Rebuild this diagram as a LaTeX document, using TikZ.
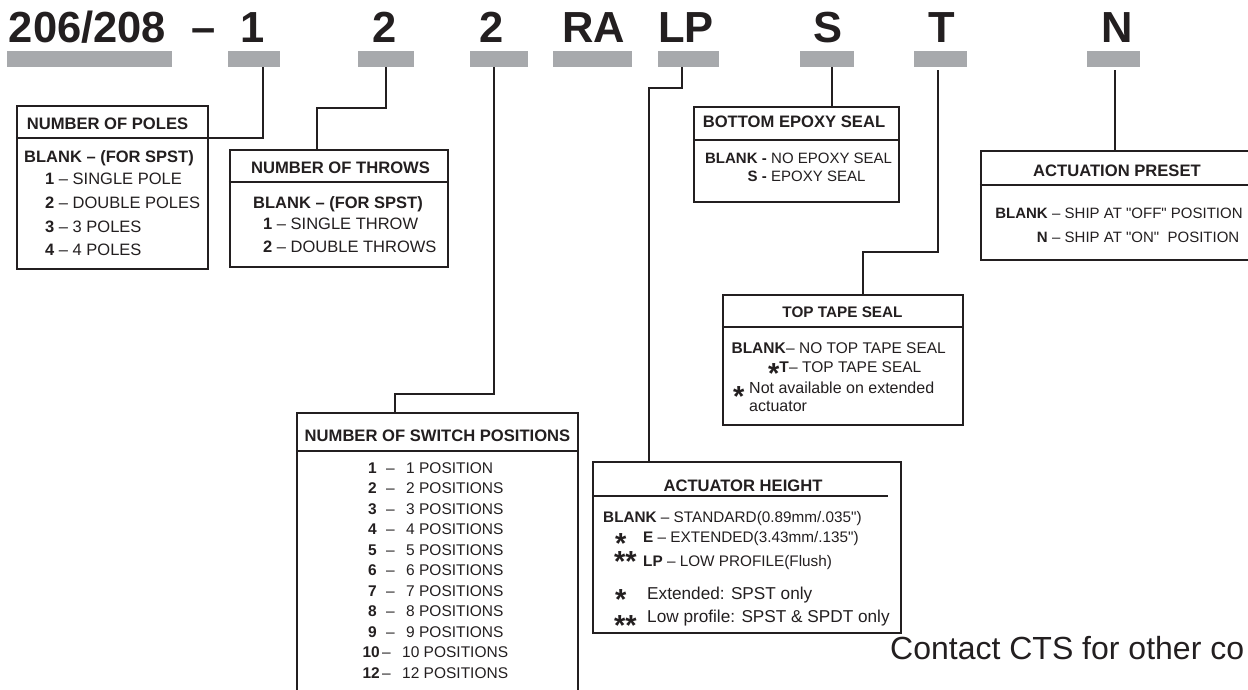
\documentclass[tikz,border=0pt]{standalone}
\usepackage{fontspec}
\setmainfont{Liberation Sans}[Ligatures=TeXOff]
\definecolor{ink}{RGB}{35,31,32}
\definecolor{barc}{RGB}{167,169,172}
\newcommand{\myast}{{\fontsize{29}{29}\selectfont\bfseries\raisebox{-11.5pt}[9pt][0pt]{*}}}
\newcommand{\dq}{\symbol{34}}
\tikzset{
  bar/.style={fill=barc, draw=none, inner sep=0pt, minimum height=16pt, anchor=north west},
  box/.style={draw=ink, line width=2.2pt, inner sep=0pt},
  hline/.style={draw=ink, line width=2pt},
  conn/.style={draw=ink, line width=2pt},
  code/.style={font=\fontsize{43.5}{44}\selectfont\bfseries, text=ink, anchor=base, inner sep=0pt},
  ttl/.style={font=\fontsize{16.6}{19}\selectfont\bfseries, text=ink, anchor=base, inner sep=0pt},
  txt/.style={text=ink, anchor=base west, inner sep=0pt},
  txtr/.style={text=ink, anchor=base east, inner sep=0pt},
  fA/.style={font=\fontsize{16.5}{19}\selectfont},
  fB/.style={font=\fontsize{15.5}{18}\selectfont},
  fC/.style={font=\fontsize{15}{18}\selectfont},
  fD/.style={font=\fontsize{15.3}{18}\selectfont},
  fE/.style={font=\fontsize{17.2}{20}\selectfont},
  fF/.style={font=\fontsize{16}{19}\selectfont},
}
\begin{document}
\begin{tikzpicture}[x=1pt,y=-1pt]
\useasboundingbox (0,0) rectangle (1248,690);
\clip (0,0) rectangle (1248,690);
\fill[white] (0,0) rectangle (1248,690);

% code letters
\node[code] (t0) at (87.5,43) {206/208};
\node[code] (tdash) at (203.5,43) {–};
\node[code] (t1) at (252.5,43) {1};
\node[code] (t2) at (385,43) {2};
\node[code] (t3) at (491.5,43) {2};
\node[code] (tRA) at (593.5,43) {RA};
\node[code] (tLP) at (686,43) {LP};
\node[code] (tS) at (827.5,43) {S};
\node[code] (tT) at (941.5,43) {T};
\node[code] (tN) at (1117.5,43) {N};

% gray bars
\node[bar, minimum width=165pt] (b0) at (7,51) {};
\node[bar, minimum width=52pt] (b1) at (228,51) {};
\node[bar, minimum width=56pt] (b2) at (358,51) {};
\node[bar, minimum width=58pt] (b3) at (470,51) {};
\node[bar, minimum width=79pt] (bRA) at (553,51) {};
\node[bar, minimum width=61pt] (bLP) at (658,51) {};
\node[bar, minimum width=54pt] (bS) at (800,51) {};
\node[bar, minimum width=53pt] (bT) at (914,51) {};
\node[bar, minimum width=53pt] (bN) at (1087,51) {};

% boxes
\node[box, minimum width=191pt, minimum height=163pt] (poles) at (112.5,187.5) {};
\node[box, minimum width=218pt, minimum height=117pt] (throws) at (339,208.5) {};
\node[box, minimum width=281pt, minimum height=287pt] (switch) at (437.5,556.5) {};
\node[box, minimum width=205pt, minimum height=95pt] (epoxy) at (796.5,154.5) {};
\node[box, minimum width=240pt, minimum height=130pt] (tape) at (843,360) {};
\node[box, minimum width=308pt, minimum height=171pt] (act) at (747,547.5) {};
\node[box, minimum width=272pt, minimum height=109pt] (preset) at (1117,205.5) {};

% header lines
\draw[hline] ([yshift=-33pt]poles.north west) -- ([yshift=-33pt]poles.north east);
\draw[hline] ([yshift=-33pt]throws.north west) -- ([yshift=-33pt]throws.north east);
\draw[hline] ([yshift=-39pt]switch.north west) -- ([yshift=-39pt]switch.north east);
\draw[hline] ([yshift=-34pt]epoxy.north west) -- ([yshift=-34pt]epoxy.north east);
\draw[hline] ([yshift=-33pt]tape.north west) -- ([yshift=-33pt]tape.north east);
\draw[hline] ([yshift=-35pt]act.north west) -- ([xshift=-14pt,yshift=-35pt]act.north east);
\draw[hline] ([yshift=-35pt]preset.north west) -- ([yshift=-35pt]preset.north east);

% connectors
\coordinate (x1) at (263,0);
\coordinate (x2) at (317,0);
\coordinate (x3) at (494,0);
\coordinate (x3b) at (395,0);
\coordinate (xLP) at (682,0);
\coordinate (xLPb) at (649,0);
\coordinate (xS) at (832,0);
\coordinate (xT) at (938,0);
\coordinate (xTb) at (863,0);
\coordinate (xN) at (1115,0);
\draw[conn] (b1.south -| x1) |- ([yshift=-33pt]poles.north east);
\draw[conn] (b2.south) -- ++(0,41) -| (x2 |- throws.north);
\draw[conn] (b3.south -| x3) -- ++(0,327) -| (x3b |- switch.north);
\draw[conn] (bLP.south -| xLP) -- ++(0,21) -| (xLPb |- act.north);
\draw[conn] (bS.south -| xS) -- (xS |- epoxy.north);
\draw[conn, shorten <=3pt] (bT.south -| xT) -- ++(0,185) -| (xTb |- tape.north);
\draw[conn, shorten <=3pt] (bN.south -| xN) -- (xN |- preset.north);

% titles
\node[ttl] (pT) at (107.5,130) {NUMBER OF POLES};
\node[ttl] (thT) at (340.5,174) {NUMBER OF THROWS};
\node[ttl] (swT) at (437.5,441) {NUMBER OF SWITCH POSITIONS};
\node[ttl] (epT) at (794,128) {BOTTOM EPOXY SEAL};
\node[ttl, font=\fontsize{15.3}{18}\selectfont\bfseries] (tpT) at (842.5,317) {TOP TAPE SEAL};
\node[ttl] (acT) at (743,491) {ACTUATOR HEIGHT};
\node[ttl] (prT) at (1117,177) {ACTUATION PRESET};

% poles body
\node[txt, fA] (p0) at (24,163) {\textbf{BLANK – (FOR SPST)}};
\node[txt, fA] (p1) at (45,185) {\textbf{1} – SINGLE POLE};
\node[txt, fA] (p2) at (45,208) {\textbf{2} – DOUBLE POLES};
\node[txt, fA] (p3) at (45,232) {\textbf{3} – 3 POLES};
\node[txt, fA] (p4) at (45,255) {\textbf{4} – 4 POLES};

% throws body
\node[txt, fA] (h0) at (253,208) {\textbf{BLANK – (FOR SPST)}};
\node[txt, fA] (h1) at (263,229) {\textbf{1} – SINGLE THROW};
\node[txt, fA] (h2) at (263,252) {\textbf{2} – DOUBLE THROWS};

% switch positions body
\node[txtr, fB] (sn1) at (377,473) {\textbf{1}};
\node[txt, fB] (sd1) at (386,473) {–};
\node[txt, fB] (st1) at (406,473) {1 POSITION};
\foreach \n [count=\i] in {2,...,9} {
  \node[txtr, fB] (sn\n) at (377,{473+20.5*\i}) {\textbf{\n}};
  \node[txt, fB] (sd\n) at (386,{473+20.5*\i}) {–};
  \node[txt, fB] (st\n) at (406,{473+20.5*\i}) {\n\ POSITIONS};
}
\node[txtr, fB] (sn10) at (380,657.5) {\textbf{10}};
\node[txt, fB] (sd10) at (382,657.5) {–};
\node[txt, fB] (st10) at (402,657.5) {10 POSITIONS};
\node[txtr, fB] (sn12) at (380,678) {\textbf{12}};
\node[txt, fB] (sd12) at (382,678) {–};
\node[txt, fB] (st12) at (402,678) {12 POSITIONS};

% epoxy body
\node[txtr, fC] (e0a) at (767,164) {\textbf{BLANK -}};
\node[txt, fC] (e0b) at (771,164) {NO EPOXY SEAL};
\node[txtr, fC] (e1a) at (767,182) {\textbf{S -}};
\node[txt, fC] (e1b) at (771,182) {EPOXY SEAL};

% tape body
\node[txtr, fB] (a0a) at (786,353) {\textbf{BLANK}};
\node[txt, fB] (a0b) at (786,353) {– NO TOP TAPE SEAL};
\node[txtr, fB] (a1a) at (789,372) {\myast\textbf{T}};
\node[txt, fB] (a1b) at (789,372) {– TOP TAPE SEAL};
\node[txt, fF] (a2a) at (733,395) {\myast};
\node[txt, fF] (a2b) at (749,393) {Not available on extended};
\node[txt, fF] (a3) at (749,411) {actuator};

% actuator body
\node[txt, fD] (c0) at (603,522) {\textbf{BLANK} – STANDARD(0.89mm/.035\dq)};
\node[txt, fD] (c1a) at (615,542) {\myast};
\node[txt, fD] (c1b) at (643,542) {\textbf{E} – EXTENDED(3.43mm/.135\dq)};
\node[txt, fD] (c2a) at (614,560) {\myast\myast};
\node[txt, fD] (c2b) at (643,566) {\textbf{LP} – LOW PROFILE(Flush)};
\node[txt, fE] (c3a) at (615,598) {\myast};
\node[txt, fE] (c3b) at (647,599) {Extended: SPST only};
\node[txt, fE] (c4a) at (614,624) {\myast\myast};
\node[txt, fE] (c4b) at (647,622) {Low profile: SPST \& SPDT only};

% preset body
\node[txtr, fC] (r0a) at (1048,218) {\textbf{BLANK}};
\node[txt, fC] (r0b) at (1052,218) {– SHIP AT \dq OFF\dq\ POSITION};
\node[txtr, fC] (r1a) at (1048,242) {\textbf{N}};
\node[txt, fC] (r1b) at (1052,242) {– SHIP AT \dq ON\dq\ \ POSITION};

% footer
\node[txt, font=\fontsize{32}{35}\selectfont] (foot) at (890,659) {Contact CTS for other co};
\end{tikzpicture}
\end{document}
